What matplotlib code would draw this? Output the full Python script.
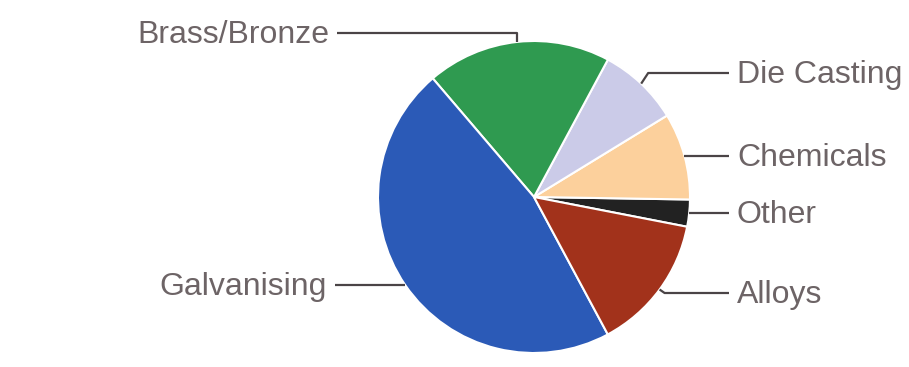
import numpy as np
import matplotlib
matplotlib.use("Agg")
import matplotlib.pyplot as plt

# zinc end uses, share in percent (counter-clockwise from startangle)
labels = ["Other", "Chemicals", "Die Casting", "Brass/Bronze", "Galvanising", "Alloys"]
shares = [2.8, 9.0, 8.4, 19.1, 46.6, 14.1]
colors = ["#222222", "#fcd09c", "#cbcbe8", "#2f9a50", "#2b5ab7", "#a2321b"]

W, H = 909, 367
CX, CY, R = 534, H - 197, 156

# where each leader line ends and which side the text sits (pixel coords, y down)
layout = {
    "Brass/Bronze": dict(elbow=(0, 33), end=337, side=-1),
    "Die Casting": dict(elbow=(7, 73), end=729, side=1),
    "Chemicals": dict(elbow=None, end=729, side=1),
    "Other": dict(elbow=None, end=729, side=1),
    "Alloys": dict(elbow=(5, 293), end=729, side=1),
    "Galvanising": dict(elbow=None, end=335, side=-1),
}

plt.rcParams["font.family"] = ["Liberation Sans", "DejaVu Sans"]
fig = plt.figure(figsize=(W / 100, H / 100), dpi=100)
ax = fig.add_axes([0, 0, 1, 1])

wedges, _ = ax.pie(shares, colors=colors, startangle=-11, counterclock=True,
                   center=(CX, CY), radius=R, frame=True,
                   wedgeprops=dict(edgecolor="white", linewidth=1.5))
ax.set_xlim(0, W)
ax.set_ylim(0, H)
ax.set_aspect("equal")
ax.axis("off")

for w, name in zip(wedges, labels):
    mid = np.deg2rad((w.theta1 + w.theta2) / 2)
    ax_x = CX + R * np.cos(mid)
    ax_y = CY + R * np.sin(mid)
    spec = layout[name]
    xs, ys = [ax_x], [ax_y]
    if spec["elbow"] is not None:
        dx, ly = spec["elbow"]
        xs.append(ax_x + dx)
        ys.append(H - ly)
    xs.append(spec["end"])
    ys.append(ys[-1])
    ax.plot(xs, ys, color="#4a4446", lw=1.6, solid_capstyle="butt")
    tx = spec["end"] + 8 * spec["side"]
    ax.text(tx, ys[-1] - 2, name, fontsize=23, color="#6d6466",
            ha="left" if spec["side"] > 0 else "right", va="center")

fig.savefig("out.png", dpi=100, facecolor="white")
